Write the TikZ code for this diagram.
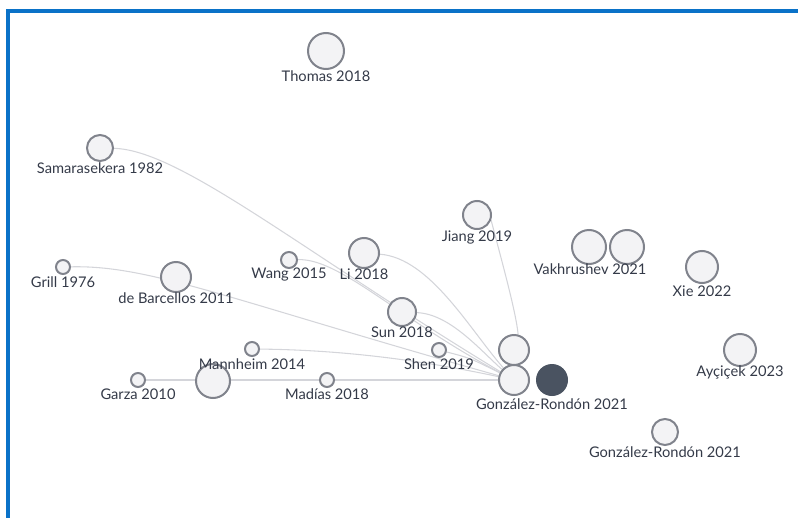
\documentclass[tikz,border=0pt]{standalone}
\usepackage{fontspec}
\setmainfont{Lato}
\usetikzlibrary{backgrounds}
\definecolor{framec}{RGB}{10,114,200}
\definecolor{ringc}{RGB}{128,131,140}
\definecolor{fillc}{RGB}{243,243,245}
\definecolor{darkc}{RGB}{74,83,97}
\definecolor{edgec}{RGB}{212,213,218}
\definecolor{textc}{RGB}{52,58,72}
\tikzset{
  paper/.style={circle, draw=ringc, fill=fillc, line width=1.5pt, inner sep=0pt, minimum size=#1*1.5pt},
  focus/.style={circle, draw=darkc, fill=darkc, line width=1.5pt, inner sep=0pt, minimum size=#1*1.5pt},
  lbl/.style={text=textc, font=\fontsize{11}{13}\selectfont, inner sep=0pt},
  cite/.style={draw=edgec, line width=0.8pt},
  frameline/.style={draw=framec, line width=3pt}
}
\begin{document}
\begin{tikzpicture}[x=0.75pt, y=-0.75pt]
\useasboundingbox (0,0) rectangle (798,517);
\coordinate (fbl) at (7.5,530);
\coordinate (ftl) at (7.5,11);
\coordinate (ftr) at (810,11);
\draw[frameline] (fbl) -- (ftl) -- (ftr);

% papers
\node[paper=17] (big) at (213,381) {};
\node[paper=18] (thomas) at (326,51) {};
\node[lbl] (thomasL) at (326,76) {Thomas 2018};
\node[paper=13] (sam) at (100,148) {};
\node[lbl] (samL) at (100,168) {Samarasekera 1982};
\node[paper=14] (jiang) at (477,215) {};
\node[lbl] (jiangL) at (477,237) {Jiang 2019};
\node[paper=17] (vak1) at (589,247) {};
\node[paper=17] (vak2) at (627,247) {};
\node[lbl] (vakL) at (590,269) {Vakhrushev 2021};
\node[paper=16] (xie) at (702,267) {};
\node[lbl] (xieL) at (702,291) {Xie 2022};
\node[paper=7] (grill) at (63,267) {};
\node[lbl] (grillL) at (63,282) {Grill 1976};
\node[paper=15] (barc) at (176,277) {};
\node[lbl] (barcL) at (176,298) {de Barcellos 2011};
\node[paper=8] (wang) at (289,260) {};
\node[lbl] (wangL) at (289,275) {Wang 2015};
\node[paper=15] (li) at (364,253) {};
\node[lbl] (liL) at (364,274) {Li 2018};
\node[paper=14] (sun) at (402,312) {};
\node[lbl] (sunL) at (402,332) {Sun 2018};
\node[paper=7] (shen) at (439,350) {};
\node[lbl] (shenL) at (439,364) {Shen 2019};
\node[paper=15] (up) at (514,350) {};
\node[paper=15] (gr) at (514,380) {};
\node[focus=15] (dark) at (552,380) {};
\node[lbl] (grL) at (552,404) {González-Rondón 2021};
\node[paper=7] (mann) at (252,349) {};
\node[lbl] (mannL) at (252,364) {Mannheim 2014};
\node[paper=7] (garza) at (138,380) {};
\node[lbl] (garzaL) at (138,394) {Garza 2010};
\node[paper=7] (madias) at (327,380) {};
\node[lbl] (madiasL) at (327,394) {Madías 2018};
\node[paper=16] (ayc) at (740,350) {};
\node[lbl] (aycL) at (740,372) {Ayçiçek 2023};
\node[paper=13] (gr2) at (665,432) {};
\node[lbl] (gr2L) at (665,452) {González-Rondón 2021};

% citation links
\begin{pgfonlayer}{background}
\draw[cite] (sam) .. controls (180,150) and (300,250) .. (gr);
\draw[cite] (grill) .. controls (150,265) and (230,300) .. (gr);
\draw[cite] (wang) .. controls (340,258) and (400,320) .. (gr);
\draw[cite] (li) .. controls (430,258) and (470,330) .. (gr);
\draw[cite] (sun) .. controls (450,314) and (480,350) .. (gr);
\draw[cite] (shen) .. controls (470,358) .. (gr);
\draw[cite] (mann) .. controls (350,350) and (430,362) .. (gr);
\draw[cite] (garza) -- (gr);
\draw[cite] (jiang.-20) .. controls (502,262) and (516,312) .. (up.75);
\end{pgfonlayer}
\end{tikzpicture}
\end{document}
